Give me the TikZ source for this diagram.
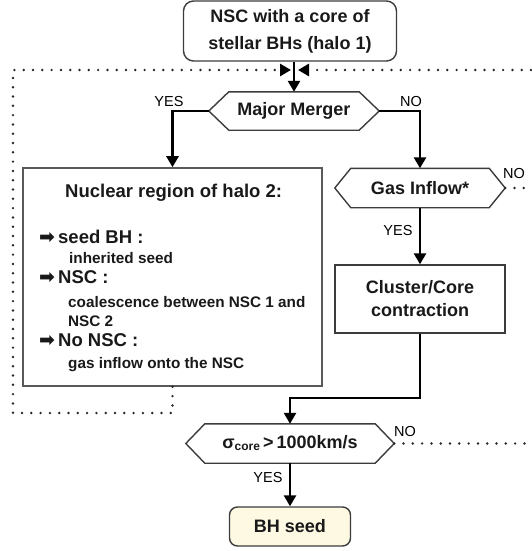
\documentclass[tikz,border=0pt]{standalone}
\usepackage{fontspec}
\setmainfont{Liberation Sans}
\newfontfamily\dejavu{DejaVu Sans}
\usetikzlibrary{arrows.meta}
\definecolor{seedfill}{RGB}{253,249,226}
\definecolor{boxline}{RGB}{60,60,60}
\definecolor{dotc}{RGB}{40,40,40}
\definecolor{txt}{RGB}{25,25,25}
\newcommand\fsz[1]{\fontsize{#1}{#1}\selectfont}
\newcommand\hexdraw[2]{\draw[hexline] (#1.west) -- ([xshift=#2]#1.north west) -- ([xshift=-#2]#1.north east) -- (#1.east) -- ([xshift=-#2]#1.south east) -- ([xshift=#2]#1.south west) -- cycle;}
\newcommand\bigarrow{{\dejavu\fsz{19}➡}}
\begin{document}
\begin{tikzpicture}[x=1pt,y=-1pt,
  every node/.style={text=txt},
  procbox/.style={draw=boxline, line width=1.4pt, rectangle, inner sep=0pt, align=center,
    font=\fontsize{18}{23}\selectfont\bfseries},
  roundbox/.style={procbox, rounded corners=10pt},
  hexnode/.style={rectangle, inner sep=0pt, font=\fsz{18}\bfseries},
  hexline/.style={draw=boxline, line width=1.4pt, line join=miter},
  lab/.style={font=\fsz{14.5}, inner sep=0pt, text=black},
  arr/.style={draw=black, line width=2.6pt, -{Triangle[length=11pt,width=12pt]}},
  dotl/.style={draw=dotc, line width=2.7pt, line cap=round, dash pattern=on 0pt off 9.3pt},
  dottip/.style={-{Triangle[length=11pt,width=12pt,color=black,fill=black]}},
  linehead/.style={anchor=base west, inner sep=0pt, font=\fsz{18.5}\bfseries},
  linesub/.style={anchor=base west, inner sep=0pt, font=\fsz{15.3}\bfseries}
]
\useasboundingbox (0,0) rectangle (531,551);

% nodes
\node[roundbox, minimum width=213pt, minimum height=60pt, font=\fontsize{18}{27}\selectfont\bfseries] (top) at (290,31) {NSC with a core of\\stellar BHs (halo 1)};
\node[hexnode, minimum width=170pt, minimum height=38pt] (mm) at (294,111) {Major Merger};
\hexdraw{mm}{20pt}
\node[procbox, draw=gray!70!black, line width=1.6pt, minimum width=299pt, minimum height=218pt] (nuc) at (172.5,277) {};
\node[hexnode, minimum width=170pt, minimum height=39pt] (gas) at (420,188) {Gas Inflow*};
\hexdraw{gas}{16pt}
\node[procbox, minimum width=170pt, minimum height=68pt] (cl) at (420,299) {Cluster/Core\\contraction};
\node[hexnode, minimum width=208pt, minimum height=39pt] (sig) at (290,443.5) {σ\raisebox{-2pt}{\fsz{12}core}\,>\,1000km/s};
\hexdraw{sig}{19pt}
\node[roundbox, fill=seedfill, minimum width=121pt, minimum height=39pt, rounded corners=8pt] (bh) at (290,526.5) {BH seed};

% text inside nuclear box
\node[linehead] (t0) at (65,197) {Nuclear region of halo 2:};
\node[linehead] (t1) at (39,243) {\bigarrow\,seed BH :};
\node[linesub] (t2) at (69,263) {inherited seed};
\node[linehead] (t3) at (39,283) {\bigarrow\,NSC :};
\node[linesub] (t4) at (68,307) {coalescence between NSC 1 and};
\node[linesub] (t5) at (68,326) {NSC 2};
\node[linehead] (t6) at (39,346) {\bigarrow\,No NSC :};
\node[linesub] (t7) at (68,368) {gas inflow onto the NSC};

% labels
\node[lab] (yes1) at (169,102) {YES};
\node[lab] (no1) at (411,102) {NO};
\node[lab] (no2) at (514,174) {NO};
\node[lab] (yes2) at (398,231) {YES};
\node[lab] (no3) at (405,432) {NO};
\node[lab] (yes3) at (268,478) {YES};

% coordinates
\coordinate (la) at (291,70);
\coordinate (ra) at (298,70);
\coordinate (lb) at (172.5,413);
\coordinate (ll) at (13,413);
\coordinate (lt) at (13,70);
\coordinate (rt) at (531,70);
\coordinate (ge) at (531,188);
\coordinate (se) at (531,443.5);
\coordinate (j) at (290,398);

% solid connectors
\draw[arr] (mm.north |- top.south) -- (mm.north);
\draw[arr] (mm.west) -| (nuc.north);
\draw[arr] (mm.east) -| (gas.north);
\draw[arr] (gas.south) -- (cl.north);
\draw[arr] (cl.south) |- (j) -- (sig.north);
\draw[arr] (sig.south) -- (bh.north);

% dotted connectors
\draw[dotl, dottip] (nuc.south) -- (lb) -- (ll) -- (lt) -- (la);
\draw[dotl, dottip] (rt) -- (ra);
\draw[dotl] (gas.east) -- (ge);
\draw[dotl] (sig.east) -- (se);
\end{tikzpicture}
\end{document}
